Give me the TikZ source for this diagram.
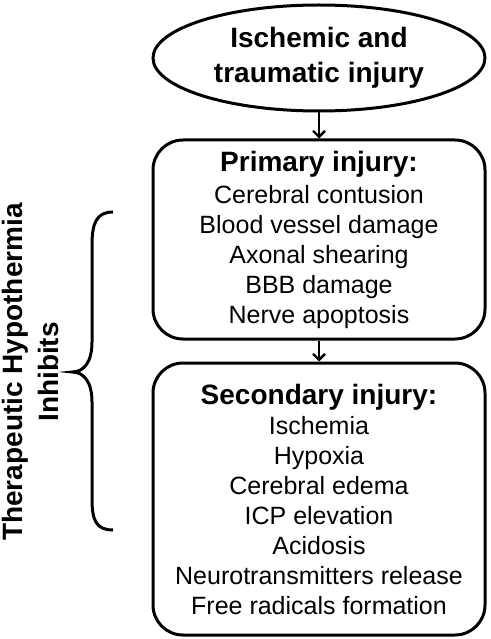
\documentclass[tikz,border=0pt]{standalone}
\usepackage{fontspec}
\setmainfont{Liberation Sans}
\usetikzlibrary{shapes.geometric,arrows.meta}
\begin{document}
\begin{tikzpicture}[x=1pt,y=-1pt,
  outline/.style={draw=black,line width=3pt},
  stepbox/.style={outline,rounded corners=30pt,minimum width=332pt,inner sep=0pt,align=center,font=\fontsize{25}{30}\selectfont},
  arr/.style={line width=2.4pt,-{Straight Barb[length=6pt,width=12pt,line width=2.4pt]}},
  hd/.style={font=\fontsize{28}{30}\bfseries}]
\useasboundingbox (0,0) rectangle (490,639);
\node[outline,ellipse,minimum width=332pt,minimum height=106pt,inner sep=0pt,align=center,font=\fontsize{28}{35}\selectfont\bfseries] (ell) at (319,58) {Ischemic and\\traumatic injury};
\node[stepbox,minimum height=199pt] (prim) at (319,239.5) {{\fontsize{28}{30}\selectfont\bfseries Primary injury:}\\[2pt]Cerebral contusion\\Blood vessel damage\\Axonal shearing\\BBB damage\\Nerve apoptosis};
\node[stepbox,minimum height=272pt] (sec) at (319,499) {{\fontsize{28}{30}\selectfont\bfseries Secondary injury:}\\Ischemia\\Hypoxia\\Cerebral edema\\ICP elevation\\Acidosis\\Neurotransmitters release\\Free radicals formation};
\draw[arr] (ell.south) -- (prim.north);
\draw[arr] (prim.south) -- (sec.north);
\coordinate (bt) at (113,212);
\coordinate (bb) at (113,530);
\coordinate (tip) at (72,372);
\draw[line width=3pt] (bt) .. controls (96,212) and (92,224) .. (92,245) -- (92,342) .. controls (92,362) and (84,372) .. (tip) .. controls (84,372) and (92,382) .. (92,402) -- (92,499) .. controls (92,520) and (96,530) .. (bb);
\node[rotate=90,font=\fontsize{28}{30}\selectfont\bfseries] (t1) at (15,372) {Therapeutic Hypothermia};
\node[rotate=90,font=\fontsize{28}{30}\selectfont\bfseries] (t2) at (48,372) {Inhibits};
\end{tikzpicture}
\end{document}
